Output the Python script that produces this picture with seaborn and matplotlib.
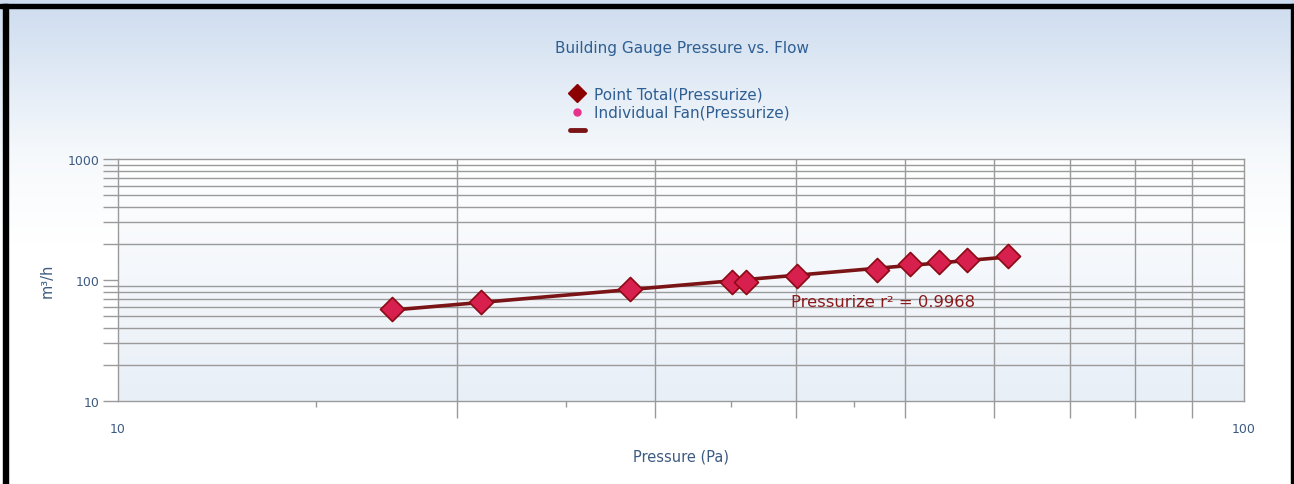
import numpy as np
import pandas as pd
import matplotlib
matplotlib.use("Agg")
import matplotlib.pyplot as plt
import matplotlib.colors as mcolors
from matplotlib.lines import Line2D
from matplotlib.patches import Rectangle
from matplotlib.ticker import FixedLocator, NullFormatter, FixedFormatter, NullLocator
import seaborn as sns

# ---- data ----
pressure_pa = [17.5, 21.0, 28.5, 35.1, 36.1, 40.1, 47.2, 50.5, 53.6, 56.7, 61.7]
flow_m3h = [57.5, 65.8, 84.3, 96.3, 96.5, 107.9, 121.0, 135.6, 140.9, 146.3, 157.9]
r2_label = "Pressurize r² = 0.9968"
title_text = "Building Gauge Pressure vs. Flow"
legend_labels = ["Point Total(Pressurize)", "Individual Fan(Pressurize)", ""]
x_major = [10, 100]
x_grid = [20, 30, 40, 50, 60, 70, 80, 90]
x_small = [15, 25, 35, 45]
y_major = [10, 100, 1000]
y_minor = [20, 30, 40, 50, 60, 70, 80, 90, 200, 300, 400, 500, 600, 700, 800, 900]

df = pd.DataFrame({"x": pressure_pa, "y": flow_m3h})

# power-law fit in log-log space
b, a = np.polyfit(np.log10(df["x"]), np.log10(df["y"]), 1)
fit_x = np.array([df["x"].min(), df["x"].max()])
fit_df = pd.DataFrame({"x": fit_x, "y": 10 ** (a + b * np.log10(fit_x))})

sns.set_theme(style="white")
plt.rcParams["font.family"] = ["DejaVu Sans"]

W, H = 1294, 485
fig = plt.figure(figsize=(W / 100, H / 100), dpi=100)

# figure background gradient (light blue at top fading to white)
bg = fig.add_axes([0, 0, 1, 1], zorder=-10)
bg.set_axis_off()
cmap_bg = mcolors.LinearSegmentedColormap.from_list(
    "bg", [(0, "#cddcef"), (0.32, "#f6f9fc"), (0.5, "#ffffff"), (1, "#ffffff")])
bg.imshow(np.linspace(0, 1, 256).reshape(-1, 1), cmap=cmap_bg, aspect="auto",
          extent=[0, 1, 0, 1], origin="upper")
bg.set_xlim(0, 1)
bg.set_ylim(0, 1)

left, right, top, bottom = 118 / W, 1244 / W, 1 - 160 / H, 1 - 402 / H
ax = fig.add_axes([left, bottom, right - left, top - bottom])
ax.set_xscale("log")
ax.set_yscale("log")
ax.set_xlim(10, 100)
ax.set_ylim(10, 1000)

cmap_ax = mcolors.LinearSegmentedColormap.from_list("pa", ["#ffffff", "#e8eff7"])
ax.imshow(np.linspace(0, 1, 256).reshape(-1, 1), cmap=cmap_ax, aspect="auto",
          extent=[0, 1, 0, 1], transform=ax.transAxes, zorder=0, origin="upper")

grid_c = "#9a9a9a"
for v in x_grid:
    ax.axvline(v, color=grid_c, lw=1, zorder=1)
for v in y_minor:
    ax.axhline(v, color=grid_c, lw=1, zorder=1)

sns.lineplot(data=fit_df, x="x", y="y", ax=ax, color="#7a1416", lw=2.6,
             zorder=3, legend=False)
sns.scatterplot(data=df, x="x", y="y", ax=ax, marker="D", s=150,
                color="#d8204f", edgecolor="#8b0a14", linewidth=1.2,
                zorder=4, legend=False)

ax.text(39.6, 66, r2_label, color="#8b1a1a", fontsize=11.8, ha="left",
        va="center", zorder=5)

# ticks
tick_c = "#3d5a80"
ax.xaxis.set_major_locator(FixedLocator(x_major))
ax.xaxis.set_major_formatter(FixedFormatter([str(v) for v in x_major]))
ax.xaxis.set_minor_locator(FixedLocator(x_grid))
ax.xaxis.set_minor_formatter(NullFormatter())
ax.yaxis.set_major_locator(FixedLocator(y_major))
ax.yaxis.set_major_formatter(FixedFormatter([str(v) for v in y_major]))
ax.yaxis.set_minor_locator(FixedLocator(y_minor))
ax.yaxis.set_minor_formatter(NullFormatter())
ax.tick_params(axis="x", which="major", length=0, pad=15, labelsize=9,
               labelcolor=tick_c)
ax.tick_params(axis="x", which="minor", length=12, color=grid_c, width=1,
               bottom=True)
ax.tick_params(axis="y", which="both", length=11, color=grid_c, width=1,
               left=True, labelsize=9, labelcolor=tick_c, pad=2)

sec = ax.secondary_xaxis("bottom")
sec.xaxis.set_major_locator(FixedLocator(x_small))
sec.xaxis.set_major_formatter(NullFormatter())
sec.xaxis.set_minor_locator(NullLocator())
sec.xaxis.set_minor_formatter(NullFormatter())
sec.tick_params(which="major", length=4, color=grid_c, width=1, labelbottom=False)
sec.spines["bottom"].set_visible(False)

for s in ax.spines.values():
    s.set_color(grid_c)
    s.set_linewidth(1)

ax.set_xlabel("Pressure (Pa)", color=tick_c, fontsize=10.5, labelpad=10)
ax.set_ylabel("m³/h", color=tick_c, fontsize=10.5, labelpad=10)

fig.text(682 / W, 1 - 48 / H, title_text, color="#2f5f92", fontsize=11,
         ha="center", va="center")

handles = [
    Line2D([], [], marker="D", color="#8b0000", linestyle="none", markersize=9),
    Line2D([], [], marker="o", color="#e8318c", linestyle="none", markersize=5),
    Line2D([], [], color="#7a1416", lw=3.5),
]
leg = fig.legend(handles, legend_labels, loc="upper left",
                 bbox_to_anchor=(562 / W, 1 - 80 / H), frameon=False,
                 fontsize=11, handlelength=1.0, handletextpad=0.6,
                 labelspacing=0.22, borderpad=0)
for t in leg.get_texts():
    t.set_color("#2f5f92")

# black frame edges
fig.patches.append(Rectangle((0, 1 - 9 / H), 1, 4 / H, transform=fig.transFigure,
                             color="black", zorder=10))
fig.patches.append(Rectangle((3 / W, 0), 5 / W, 1 - 5 / H, transform=fig.transFigure,
                             color="black", zorder=10))
fig.patches.append(Rectangle((1291 / W, 0), 2 / W, 1 - 5 / H, transform=fig.transFigure,
                             color="black", zorder=10))

fig.savefig("out.png", dpi=100)
